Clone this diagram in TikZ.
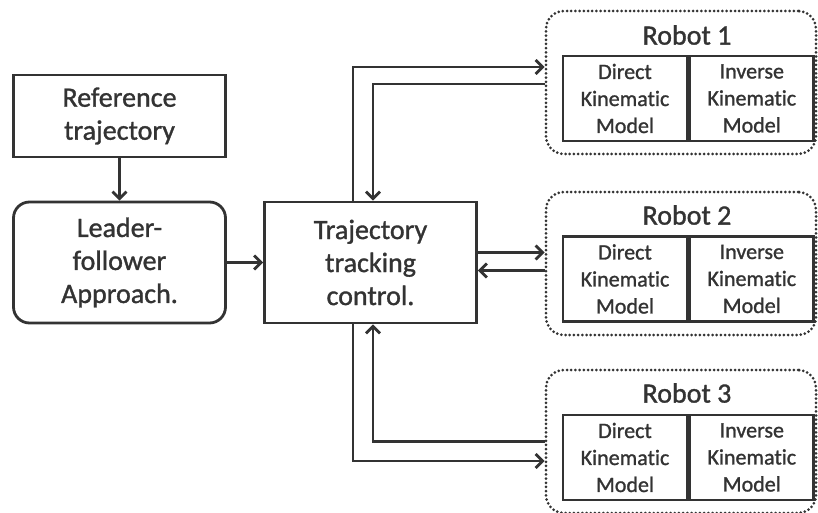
\documentclass[tikz,border=0pt]{standalone}
\usepackage{fontspec}
\setmainfont{Carlito}[Ligatures=NoCommon,FakeBold=1.2]
\usetikzlibrary{arrows.meta,positioning}

\begin{document}
\begin{tikzpicture}[
		x=1pt,
		y=-1pt,
		color=black!80,
		line width=2.8pt,
		>={Straight Barb[length=7pt,width=14pt]},
		block/.style={
			draw,
			align=center,
			inner sep=0pt,
			minimum width=212pt,
			minimum height=121pt,
			font=\fontsize{28}{33}\selectfont,
		},
		robot/.style={
			draw,
			line width=3pt,
			line cap=round,
			dash pattern=on 0pt off 4.2pt,
			rounded corners=18pt,
			minimum width=270pt,
			minimum height=143pt,
		},
		title/.style={
			font=\fontsize{28}{33}\selectfont,
		},
		cell/.style={
			draw,
			align=center,
			inner sep=0pt,
			minimum width=124pt,
			minimum height=85pt,
			font=\fontsize{22}{27}\selectfont,
		},
	]
		\useasboundingbox (0,0) rectangle (818,513);
		\node[block, minimum height=82pt] (ref) at (119.5,116) {Reference\\trajectory};
		\node[block, rounded corners=16pt] (leader) at (119.5,262.5) {Leader-\\follower\\Approach.};
		\node[block] (track) at (370.5,262.5) {Trajectory\\tracking\\control.};

		\node[robot] (robot1) at (681,82.5) {};
		\node[title] (title1) at (687,35) {Robot 1};
		\node[cell] (dkm1) at (625,98.5) {Direct\\Kinematic\\Model};
		\node[cell, right=0pt of dkm1] (ikm1) {Inverse\\Kinematic\\Model};

		\node[robot] (robot2) at (681,263.5) {};
		\node[title] (title2) at (687,215) {Robot 2};
		\node[cell] (dkm2) at (625,279) {Direct\\Kinematic\\Model};
		\node[cell, right=0pt of dkm2] (ikm2) {Inverse\\Kinematic\\Model};

		\node[robot] (robot3) at (681,441.5) {};
		\node[title] (title3) at (687,393) {Robot 3};
		\node[cell] (dkm3) at (625,457.5) {Direct\\Kinematic\\Model};
		\node[cell, right=0pt of dkm3] (ikm3) {Inverse\\Kinematic\\Model};

		\draw[->] (ref) -- (leader);
		\draw[->] (leader) -- (track);
		\draw[->] ([xshift=-17.5pt]track.north) |- ([yshift=15.5pt]robot1.west);
		\draw[->] ([yshift=-1.5pt]robot1.west) -| ([xshift=2.5pt]track.north);
		\draw[->] ([yshift=10pt]track.east) -- ([yshift=10pt]track.east -| robot2.west);
		\draw[->] ([yshift=-8pt]track.east -| robot2.west) -- ([yshift=-8pt]track.east);
		\draw[->] (robot3.west) -| ([xshift=2.5pt]track.south);
		\draw[->] ([xshift=-17.5pt]track.south) |- ([yshift=-19.5pt]robot3.west);
	\end{tikzpicture}
\end{document}
